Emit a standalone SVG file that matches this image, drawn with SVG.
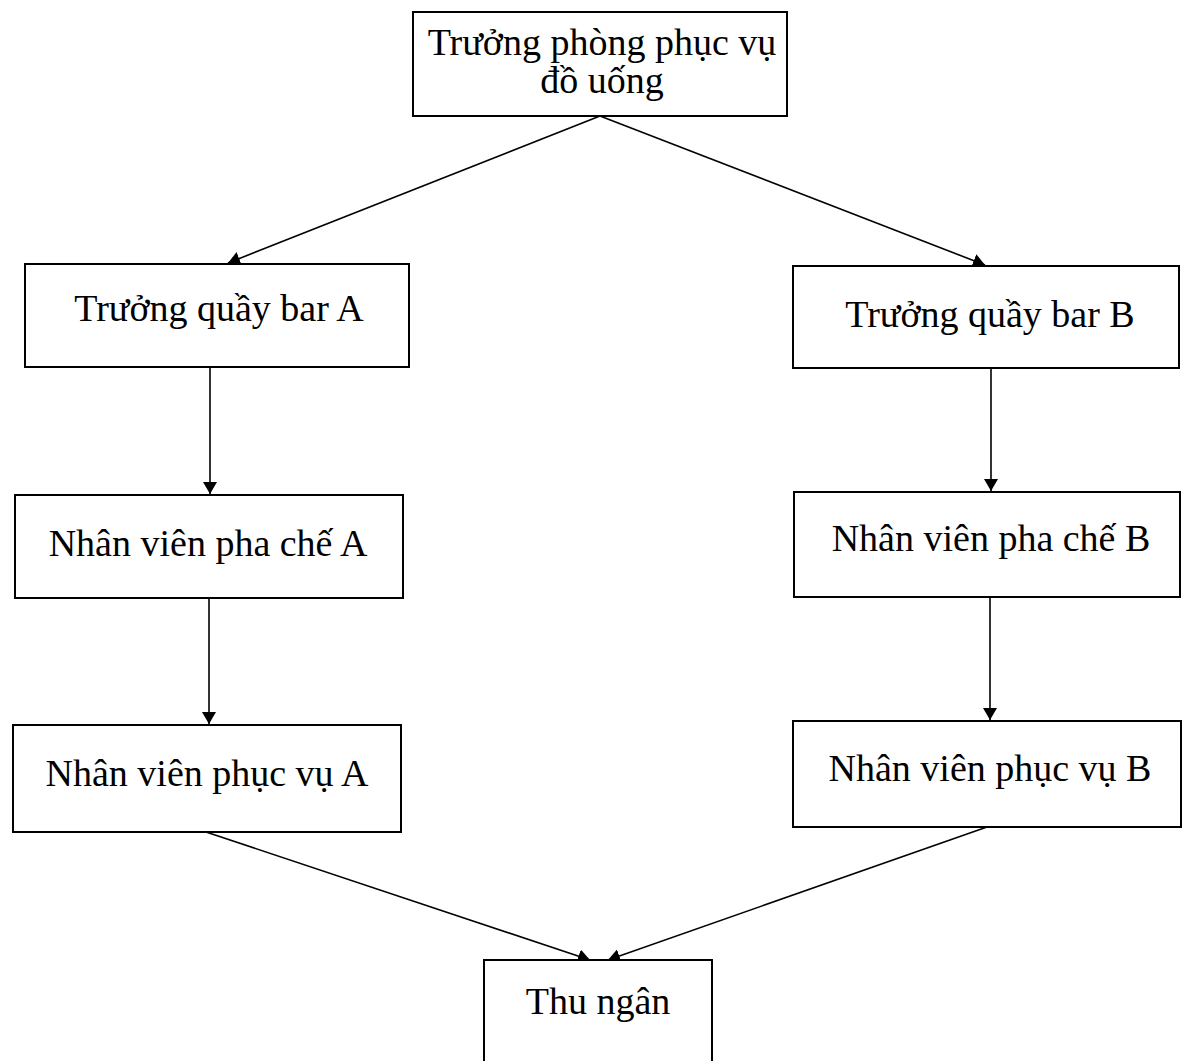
<svg xmlns="http://www.w3.org/2000/svg" width="1187" height="1061" viewBox="0 0 1187 1061">
<style>
.box{fill:#fff;stroke:#000;stroke-width:2}
.lbl{font-family:"Liberation Serif","DejaVu Serif",serif;font-size:38px;fill:#000;text-anchor:middle}
.conn{stroke:#000;stroke-width:1.6;fill:none;marker-end:url(#ah)}
</style>
<defs>
<marker id="ah" viewBox="0 0 12 14" refX="12" refY="7" markerWidth="12" markerHeight="14" markerUnits="userSpaceOnUse" orient="auto">
<path d="M0,0 L12,7 L0,14 Z" fill="#000"/>
</marker>
</defs>
<rect width="1187" height="1061" fill="#fff"/>
<g id="connectors">
<line class="conn" x1="600" y1="116" x2="228" y2="263"/>
<line class="conn" x1="600" y1="116" x2="985" y2="265"/>
<line class="conn" x1="210" y1="367" x2="210" y2="494"/>
<line class="conn" x1="991" y1="368" x2="991" y2="491"/>
<line class="conn" x1="209" y1="598" x2="209" y2="724"/>
<line class="conn" x1="990" y1="597" x2="990" y2="720"/>
<line class="conn" x1="206" y1="832" x2="590" y2="960"/>
<line class="conn" x1="987" y1="827" x2="608" y2="960"/>
</g>
<g id="n-top">
<rect class="box" x="413" y="12" width="374" height="104"/>
<text class="lbl" x="602" y="55">Trưởng phòng phục vụ</text>
<text class="lbl" x="602" y="93">đồ uống</text>
</g>
<g id="n-barA">
<rect class="box" x="25" y="264" width="384" height="103"/>
<text class="lbl" x="219" y="321">Trưởng quầy bar A</text>
</g>
<g id="n-barB">
<rect class="box" x="793" y="266" width="386" height="102"/>
<text class="lbl" x="990" y="327">Trưởng quầy bar B</text>
</g>
<g id="n-phaA">
<rect class="box" x="15" y="495" width="388" height="103"/>
<text class="lbl" x="208" y="556">Nhân viên pha chế A</text>
</g>
<g id="n-phaB">
<rect class="box" x="794" y="492" width="386" height="105"/>
<text class="lbl" x="991" y="551">Nhân viên pha chế B</text>
</g>
<g id="n-pvA">
<rect class="box" x="13" y="725" width="388" height="107"/>
<text class="lbl" x="207" y="786">Nhân viên phục vụ A</text>
</g>
<g id="n-pvB">
<rect class="box" x="793" y="721" width="388" height="106"/>
<text class="lbl" x="990" y="781">Nhân viên phục vụ B</text>
</g>
<g id="n-thu">
<rect class="box" x="484" y="960" width="228" height="110"/>
<text class="lbl" x="598" y="1014">Thu ngân</text>
</g>
</svg>
